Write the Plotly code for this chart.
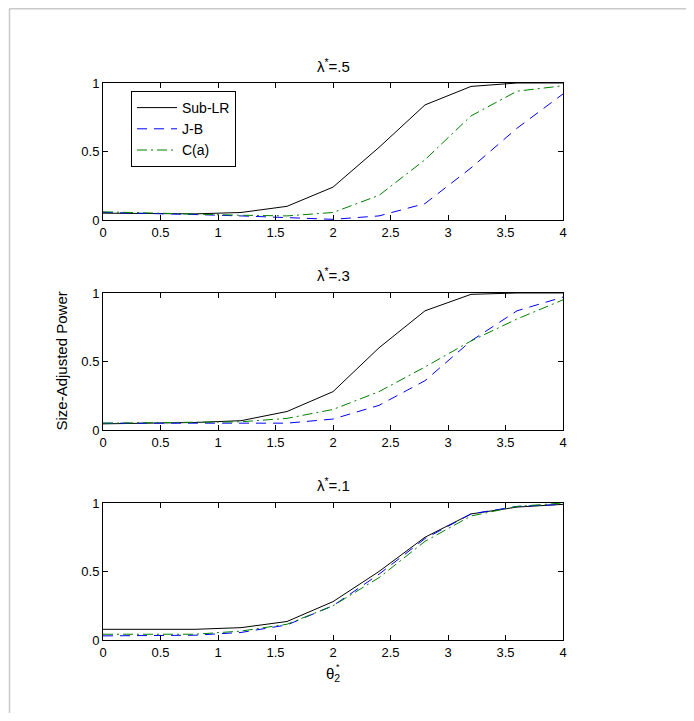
import plotly.graph_objects as go
from plotly.subplots import make_subplots

INK = "#000000"
BLUE = "#0000ff"
GREEN = "#008000"
FRAME = "#555555"
FONT = "Liberation Sans, Arial, sans-serif"

THETA = [0.0, 0.4, 0.8, 1.2, 1.6, 2.0, 2.4, 2.8, 3.2, 3.6, 4.0]

# lambda* = .5
SUBLR_5 = [0.050, 0.050, 0.045, 0.055, 0.10, 0.24, 0.53, 0.84, 0.975, 1.0, 1.0]
JB_5 = [0.056, 0.050, 0.040, 0.030, 0.015, 0.005, 0.03, 0.12, 0.38, 0.67, 0.92]
CA_5 = [0.060, 0.050, 0.045, 0.035, 0.030, 0.055, 0.18, 0.44, 0.76, 0.94, 0.98]

# lambda* = .3
SUBLR_3 = [0.045, 0.050, 0.055, 0.068, 0.135, 0.28, 0.60, 0.87, 0.99, 1.0, 1.0]
JB_3 = [0.050, 0.050, 0.050, 0.050, 0.050, 0.08, 0.18, 0.36, 0.65, 0.87, 0.97]
CA_3 = [0.050, 0.055, 0.055, 0.060, 0.085, 0.15, 0.28, 0.46, 0.65, 0.81, 0.95]

# lambda* = .1
SUBLR_1 = [0.078, 0.078, 0.078, 0.090, 0.135, 0.28, 0.50, 0.75, 0.92, 0.97, 0.99]
JB_1 = [0.030, 0.030, 0.035, 0.055, 0.110, 0.25, 0.48, 0.74, 0.92, 0.975, 0.99]
CA_1 = [0.042, 0.042, 0.042, 0.065, 0.115, 0.25, 0.455, 0.72, 0.905, 0.975, 1.0]

PANELS = [
    ("λ<sup>*</sup>=.5", SUBLR_5, JB_5, CA_5),
    ("λ<sup>*</sup>=.3", SUBLR_3, JB_3, CA_3),
    ("λ<sup>*</sup>=.1", SUBLR_1, JB_1, CA_1),
]
X_TICKS = [0, 0.5, 1, 1.5, 2, 2.5, 3, 3.5, 4]
X_TICKTEXT = ["0", "0.5", "1", "1.5", "2", "2.5", "3", "3.5", "4"]
Y_TICKS = [0, 0.5, 1]
Y_TICKTEXT = ["0", "0.5", "1"]

# page has an 8px body margin; keep the figure inside the window (no scrollbars)
W, H = 678, 705
L, T = 95, 75
PW, PH = 460, 557
R, B = W - L - PW, H - T - PH
DOMAINS = [(0.754, 1.0), (0.377, 0.623), (0.0, 0.246)]


def px_x(p):
    return (p - L) / PW


def px_y(p):
    return (H - B - p) / PH


fig = make_subplots(rows=3, cols=1)
for i, (title, sub, jb, ca) in enumerate(PANELS, start=1):
    first = i == 1
    fig.add_scatter(x=THETA, y=sub, name="Sub-LR", mode="lines",
                    line=dict(color=INK, width=1), showlegend=first,
                    row=i, col=1)
    fig.add_scatter(x=THETA, y=jb, name="J-B", mode="lines",
                    line=dict(color=BLUE, width=1, dash="10px,7px"),
                    showlegend=first, row=i, col=1)
    fig.add_scatter(x=THETA, y=ca, name="C(a)", mode="lines",
                    line=dict(color=GREEN, width=1, dash="10px,4px,2px,4px"),
                    showlegend=first, row=i, col=1)
    sfx = "" if i == 1 else str(i)
    fig.add_annotation(text=title, xref=f"x{sfx} domain", yref=f"y{sfx} domain",
                       x=0.5, y=1, yshift=18, xanchor="center", yanchor="middle",
                       showarrow=False, font=dict(size=15, family=FONT, color=INK))
    fig.update_xaxes(domain=[0, 1], row=i, col=1)
    fig.update_yaxes(domain=list(DOMAINS[i - 1]), row=i, col=1)

axis_style = dict(ticks="inside", ticklen=5, tickcolor=INK, showline=True,
                  linecolor=INK, linewidth=1, mirror="ticks", showgrid=False,
                  zeroline=False, tickfont=dict(size=13, family=FONT, color=INK))
fig.update_xaxes(range=[0, 4], tickvals=X_TICKS, ticktext=X_TICKTEXT,
                 **axis_style)
fig.update_yaxes(range=[0, 1], tickvals=Y_TICKS, ticktext=Y_TICKTEXT,
                 **axis_style)

# shared axis labels
fig.add_annotation(text="Size-Adjusted Power", xref="paper", yref="paper",
                   x=px_x(53), y=0.5, xanchor="center", yanchor="middle",
                   textangle=-90, showarrow=False,
                   font=dict(size=15, family=FONT, color=INK))
fig.add_annotation(text="θ<sub>2</sub>", xref="paper", yref="paper",
                   x=0.5, y=px_y(666), xanchor="center", yanchor="middle",
                   showarrow=False, font=dict(size=15, family=FONT, color=INK))
fig.add_annotation(text="*", xref="paper", yref="paper",
                   x=0.5, xshift=5, y=px_y(659), xanchor="center",
                   yanchor="middle", showarrow=False,
                   font=dict(size=9, family=FONT, color=INK))

# outer frame (only the left and top edges are visible)
fig.add_shape(type="line", xref="paper", yref="paper",
              x0=px_x(1.5), x1=px_x(1.5), y0=px_y(H + 10), y1=px_y(0.75),
              line=dict(color=FRAME, width=1.5))
fig.add_shape(type="line", xref="paper", yref="paper",
              x0=px_x(1.5), x1=px_x(W + 10), y0=px_y(0.75), y1=px_y(0.75),
              line=dict(color=FRAME, width=1.5))

fig.update_layout(
    width=W, height=H, template="simple_white",
    paper_bgcolor="white", plot_bgcolor="white",
    margin=dict(l=L, r=R, t=T, b=B),
    font=dict(family=FONT, size=13, color=INK),
    hovermode=False,
    legend=dict(x=px_x(123), y=px_y(83), xanchor="left", yanchor="top",
                bordercolor=INK, borderwidth=1, bgcolor="white",
                font=dict(size=14, family=FONT, color=INK),
                tracegroupgap=0, itemwidth=40),
)

fig.write_html("out.html")
